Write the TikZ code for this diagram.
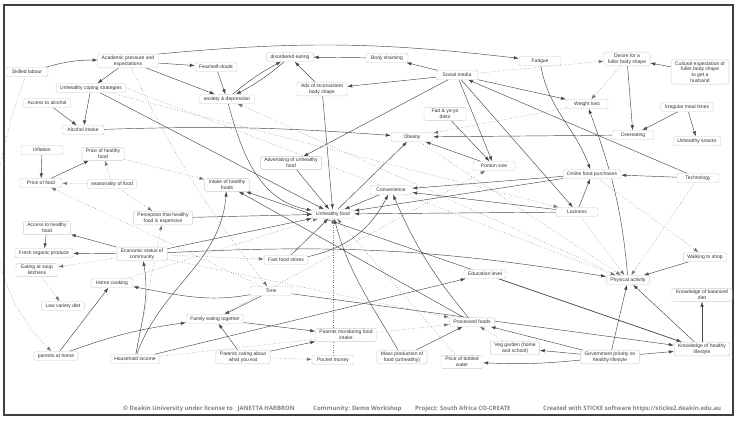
\documentclass[tikz,border=0pt]{standalone}
\usepackage{fontspec}
\setmainfont{Liberation Sans}
\newfontfamily\footfont{Open Sans}
\usetikzlibrary{arrows.meta}
\pgfdeclarelayer{bg}
\pgfsetlayers{bg,main}
\tikzset{
  box/.style={draw=black!20, rounded corners=1.5pt, fill=white, font=\fontsize{5}{5.8}\selectfont, text=black!80, align=center, inner xsep=4pt, inner ysep=1.6pt, minimum height=9pt, minimum width=42pt},
  posarr/.style={draw=black!72, line width=0.45pt, -{Latex[length=5pt,width=3.4pt]}},
  negarr/.style={draw=black!55, line width=0.5pt, dotted, -{Latex[length=5pt,width=3.4pt]}},
  foot/.style={font=\footfont\bfseries\fontsize{6}{7}\selectfont, text=black!50, anchor=west, inner sep=0pt}
}
\begin{document}
\begin{tikzpicture}[x=1pt,y=-1pt]
\useasboundingbox (0,0) rectangle (738,424);
\draw[line width=1.1pt, black!75] (4,5) rectangle (733,415);
% nodes
\node[box] (skilled) at (27,72) {Skilled labour};
\node[box] (academic) at (128,61) {Academic pressure and\\expectations};
\node[box] (coping) at (91,88) {Unhealthy coping strategies};
\node[box] (accalc) at (47,103) {Access to alcohol};
\node[box] (alcohol) at (83,130) {Alcohol intake};
\node[box] (fear) at (216,67) {Fear/self-doubt};
\node[box] (disord) at (290,57) {disordered eating};
\node[box] (anxiety) at (227,99) {anxiety \& depression};
\node[box] (ads) at (322,89) {Ads of inconsistent\\body shape};
\node[box] (shaming) at (387,58) {Body shaming};
\node[box] (social) at (457,75) {Social media};
\node[box] (fatigue) at (540,61) {Fatigue};
\node[box] (fad) at (445,114) {Fad \& yo-yo\\diets};
\node[box] (obesity) at (412,137) {Obesity};
\node[box] (desire) at (627,59) {Desire for a\\fuller body shape};
\node[box] (cultural) at (700,72) {Cultural expectation of\\fuller body shape\\to get a\\husband};
\node[box] (wloss) at (587,104) {Weight loss};
\node[box] (irreg) at (687,107) {Irregular meal times};
\node[box] (overeat) at (633,135) {Overeating};
\node[box] (snacks) at (697,141) {Unhealthy snacks};
\node[box] (tech) at (698,178) {Technology};
\node[box] (online) at (592,174) {Online food purchases};
\node[box] (lazy) at (577,212) {Laziness};
\node[box] (walk) at (705,257) {Walking to shop};
\node[box] (phys) at (628,280) {Physical activity};
\node[box] (kbal) at (702,295) {Knowledge of balanced\\diet};
\node[box] (khl) at (702,349) {Knowledge of healthy\\lifestyle};
\node[box] (gov) at (610,357) {Government priority on\\healthy lifestyle};
\node[box] (edu) at (485,274) {Education level};
\node[box] (proc) at (472,322) {Processed foods};
\node[box] (veg) at (515,348) {Veg garden (home\\and school)};
\node[box] (water) at (462,362) {Price of bottled\\water};
\node[box] (mass) at (402,357) {Mass production of\\food (unhealthy)};
\node[box] (pocket) at (333,360) {Pocket money};
\node[box] (monitor) at (346,335) {Parents monitoring food\\intake};
\node[box] (caring) at (243,357) {Parents caring about\\what you eat};
\node[box] (family) at (215,319) {Family eating together};
\node[box] (time) at (271,291) {Time};
\node[box] (income) at (135,359) {Household income};
\node[box] (parents) at (56,356) {parents at home};
\node[box] (homecook) at (112,283) {Home cooking};
\node[box] (lowvar) at (63,306) {Low variety diet};
\node[box] (soup) at (37,270) {Eating at soup\\kitchens};
\node[box] (fresh) at (44,253) {Fresh organic produce};
\node[box] (acchf) at (47,228) {Access to healthy\\food};
\node[box] (econ) at (142,254) {Economic status of\\community};
\node[box] (percep) at (163,218) {Perception that healthy\\food is expensive};
\node[box] (season) at (112,184) {seasonality of food};
\node[box] (pfood) at (41,183) {Price of food};
\node[box] (inflation) at (42,150) {Inflation};
\node[box] (phf) at (103,154) {Price of healthy\\food};
\node[box] (intake) at (227,185) {Intake of healthy\\foods};
\node[box] (advert) at (291,163) {Advertising of unhealthy\\food};
\node[box] (unfood) at (333,214) {Unhealthy food};
\node[box] (fastfood) at (286,260) {Fast food stores};
\node[box] (conv) at (391,190) {Convenience};
\node[box] (portion) at (494,166) {Portion size};
% footer
\node[foot] (f1) at (123,409) {© Deakin University under license to\hspace{0.8em}JANETTA HARBRON};
\node[foot] (f2) at (313,409) {Community: Demo Workshop};
\node[foot] (f3) at (415,409) {Project: South Africa CO-CREATE};
\node[foot] (f4) at (543,409) {Created with STICKE software https://sticke2.deakin.edu.au};
% edges
\begin{pgfonlayer}{bg}
\draw[posarr] (skilled) to[bend left=8] (academic);
\draw[negarr] (skilled) to[out=-110,in=135] (parents);
\draw[posarr] (academic) -- (coping);
\draw[posarr] (academic) -- (fear);
\draw[posarr] (academic) -- (anxiety);
\draw[posarr] (academic.north east) to[bend left=6] (fatigue);
\draw[negarr] (academic) to[bend right=6] (time);
\draw[posarr] (coping) -- (alcohol);
\draw[posarr] (accalc) -- (alcohol);
\draw[posarr] (alcohol) to[bend left=3] (obesity);
\draw[posarr] (coping) -- (unfood);
\draw[negarr] (coping) -- (lazy);
\draw[posarr] (fear) -- (anxiety);
\draw[posarr] (anxiety) to[bend left=6] (disord);
\draw[posarr] (disord) to[bend left=6] (anxiety);
\draw[posarr] (shaming) -- (disord);
\draw[posarr] (ads) -- (disord);
\draw[posarr] (social) -- (ads);
\draw[posarr] (social) -- (shaming);
\draw[posarr] (social) -- (advert);
\draw[posarr] (social) -- (portion);
\draw[posarr] (social) -- (lazy);
\draw[posarr] (social) -- (wloss);
\draw[posarr] (tech) -- (social);
\draw[posarr] (fad) -- (portion);
\draw[posarr] (fatigue) to[out=-80,in=110] (online);
\draw[negarr] (social) -- (desire);
\draw[posarr] (desire) -- (overeat);
\draw[negarr] (desire) -- (wloss);
\draw[posarr] (cultural) -- (desire);
\draw[posarr] (irreg) -- (overeat);
\draw[posarr] (irreg) -- (snacks);
\draw[posarr] (overeat) -- (obesity);
\draw[negarr] (wloss) -- (obesity);
\draw[posarr] (tech) -- (online);
\draw[posarr] (lazy) -- (online);
\draw[posarr] (online) -- (conv);
\draw[posarr] (online) -- (unfood);
\draw[posarr] (lazy) -- (conv);
\draw[posarr] (lazy) -- (unfood);
\draw[negarr] (online) -- (walk);
\draw[negarr] (tech) -- (phys);
\draw[posarr] (walk) -- (phys);
\draw[negarr] (lazy) -- (phys);
\draw[posarr] (phys) to[out=95,in=-70] (wloss);
\draw[negarr] (phys) -- (anxiety);
\draw[negarr] (obesity) -- (phys);
\draw[negarr] (coping.east) -- (phys);
\draw[negarr] (family) -- (portion);
\draw[posarr] (time) -- (family);
\draw[posarr] (time) to[out=190,in=-10] (homecook);
\draw[posarr] (family) -- (monitor);
\draw[posarr] (caring) -- (monitor);
\draw[posarr] (caring) -- (family);
\draw[negarr] (caring) -- (pocket);
\draw[posarr] (mass) -- (proc);
\draw[posarr] (mass) to[out=120,in=-75] (unfood);
\draw[negarr] (water) -- (unfood);
\draw[negarr] (pocket) -- (unfood);
\draw[posarr] (gov) -- (proc);
\draw[posarr] (gov) -- (veg);
\draw[posarr] (gov) to[bend left=4] (water);
\draw[posarr] (gov) -- (khl);
\draw[posarr] (gov) -- (phys);
\draw[posarr] (khl) -- (kbal);
\draw[posarr] (khl) -- (phys);
\draw[negarr] (veg) -- (proc);
\draw[posarr] (edu) -- (khl);
\draw[posarr] (time) -- (khl);
\draw[posarr] (khl) -- (intake);
\draw[posarr] (proc) to[bend left=8] (conv);
\draw[posarr] (fastfood) -- (unfood);
\draw[posarr] (fastfood) to[bend right=25] (conv);
\draw[posarr] (econ) to[bend left=6] (phys);
\draw[posarr] (econ) -- (unfood);
\draw[posarr] (econ) -- (acchf);
\draw[posarr] (econ) -- (fresh);
\draw[negarr] (econ) -- (soup);
\draw[negarr] (soup) -- (lowvar);
\draw[posarr] (acchf) -- (fresh);
\draw[posarr] (income) to[out=80,in=-80] (econ);
\draw[posarr] (income) to[out=70,in=-95] (intake);
\draw[posarr] (income) -- (edu);
\draw[negarr] (income) -- (proc);
\draw[negarr] (econ) -- (proc);
\draw[negarr] (homecook) -- (unfood);
\draw[posarr] (parents) -- (homecook);
\draw[posarr] (parents) to[bend left=6] (family);
\draw[posarr] (proc) -- (intake);
\draw[posarr] (inflation) -- (pfood);
\draw[posarr] (pfood) -- (phf);
\draw[negarr] (season) -- (pfood);
\draw[negarr] (season) -- (phf);
\draw[negarr] (season) -- (percep);
\draw[negarr] (phf) -- (intake);
\draw[posarr] (percep) -- (unfood);
\draw[negarr] (time) -- (pfood);
\draw[negarr] (income) -- (percep);
\draw[posarr] (advert) -- (unfood);
\draw[posarr] (anxiety) to[out=-75,in=170] (unfood);
\draw[posarr] (ads) -- (unfood);
\draw[posarr] (conv) -- (unfood);
\draw[posarr] (unfood) -- (obesity);
\draw[posarr] (portion) -- (obesity);
\draw[negarr] (econ) -- (fastfood);
\end{pgfonlayer}
\end{tikzpicture}
\end{document}
